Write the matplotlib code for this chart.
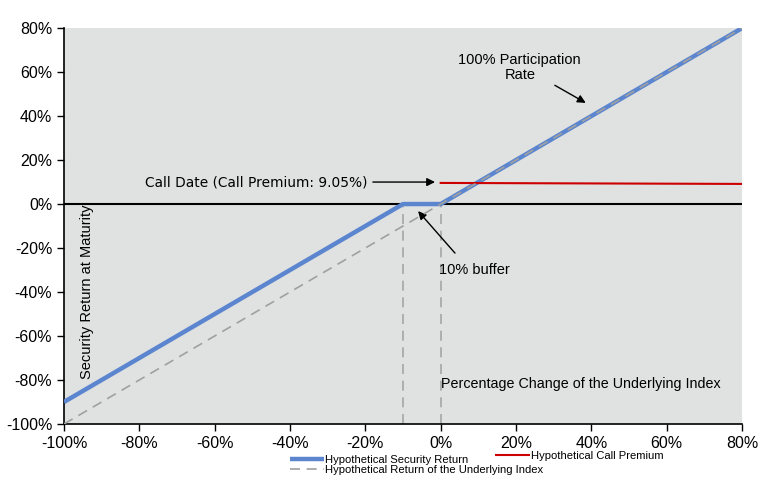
import matplotlib.pyplot as plt
from matplotlib.ticker import FuncFormatter

# --- Data (percent) ---
index_change = [-100, -10, 0, 80]
security_return = [-90, 0, 0, 80]
underlying_x = [-100, 80]
underlying_y = [-100, 80]
premium_x = [0, 80]
premium_y = [9.6, 9.15]
buffer_marks = [-10, 0]
x_ticks = [-100, -80, -60, -40, -20, 0, 20, 40, 60, 80]
y_ticks = [-100, -80, -60, -40, -20, 0, 20, 40, 60, 80]

plt.rcParams["font.family"] = ["Liberation Sans", "DejaVu Sans"]

fig = plt.figure(figsize=(7.83, 4.93), dpi=100)
ax = fig.add_axes([0.0817, 0.140, 0.866, 0.803])
ax.set_facecolor("#e0e1e1")

# dashed verticals for the buffer zone
for xv in buffer_marks:
    ax.plot([xv, xv], [-100, 0], color="#a6a6a6", lw=1.2, dashes=(6, 4), zorder=2)

ax.axhline(0, color="black", lw=1.5, zorder=3)

l_sec, = ax.plot(index_change, security_return, color="#5b86cf", lw=3.2, zorder=4,
                 solid_capstyle="butt")
l_und, = ax.plot(underlying_x, underlying_y, color="#a0a0a0", lw=1.2, dashes=(6, 4),
                 zorder=5)
l_prem, = ax.plot(premium_x, premium_y, color="#cc0000", lw=1.5, zorder=4)

ax.set_xlim(-100, 80)
ax.set_ylim(-100, 80)
ax.set_xticks(x_ticks)
ax.set_yticks(y_ticks)
pct = FuncFormatter(lambda v, _: f"{v:.0f}%")
ax.xaxis.set_major_formatter(pct)
ax.yaxis.set_major_formatter(pct)
ax.tick_params(direction="out", length=5, width=1, labelsize=11.5, colors="black")
ax.tick_params(axis="x", pad=4)
for s in ["top", "right"]:
    ax.spines[s].set_visible(False)
for s in ["left", "bottom"]:
    ax.spines[s].set_linewidth(1.2)

arrow = dict(arrowstyle="-|>", color="black", lw=1, mutation_scale=12,
             shrinkA=0, shrinkB=0)

# annotations
ax.text(-19.5, 10, "Call Date (Call Premium: 9.05%)", fontsize=9.9,
        family=["DejaVu Sans"], ha="right", va="center")
ax.annotate("", xy=(-1.5, 10), xytext=(-18, 10), arrowprops=arrow)

ax.text(21, 62, "100% Participation\nRate", fontsize=10.5, ha="center", va="center",
        linespacing=1.1)
ax.annotate("", xy=(38.5, 46), xytext=(30.3, 54), arrowprops=arrow)

ax.text(-0.5, -30, "10% buffer", fontsize=10.5, ha="left", va="center")
ax.annotate("", xy=(-6, -3.2), xytext=(3.8, -22.3), arrowprops=arrow)

ax.text(-93.8, -40, "Security Return at Maturity", rotation=90, fontsize=10.5,
        ha="center", va="center")
ax.text(0, -82, "Percentage Change of the Underlying Index", fontsize=10.3,
        ha="left", va="center")

fig.legend([l_sec, l_und],
           ["Hypothetical Security Return",
            "Hypothetical Return of the Underlying Index"],
           loc="upper left", bbox_to_anchor=(0.371, 0.078), frameon=False,
           fontsize=8.1, handlelength=3.0, handletextpad=0.1,
           labelspacing=0.0, borderaxespad=0, borderpad=0)
fig.legend([l_prem], ["Hypothetical Call Premium"],
           loc="upper left", bbox_to_anchor=(0.633, 0.086), frameon=False,
           fontsize=8.1, handlelength=3.0, handletextpad=0.1,
           borderaxespad=0, borderpad=0)

fig.savefig("out.png", dpi=100)
